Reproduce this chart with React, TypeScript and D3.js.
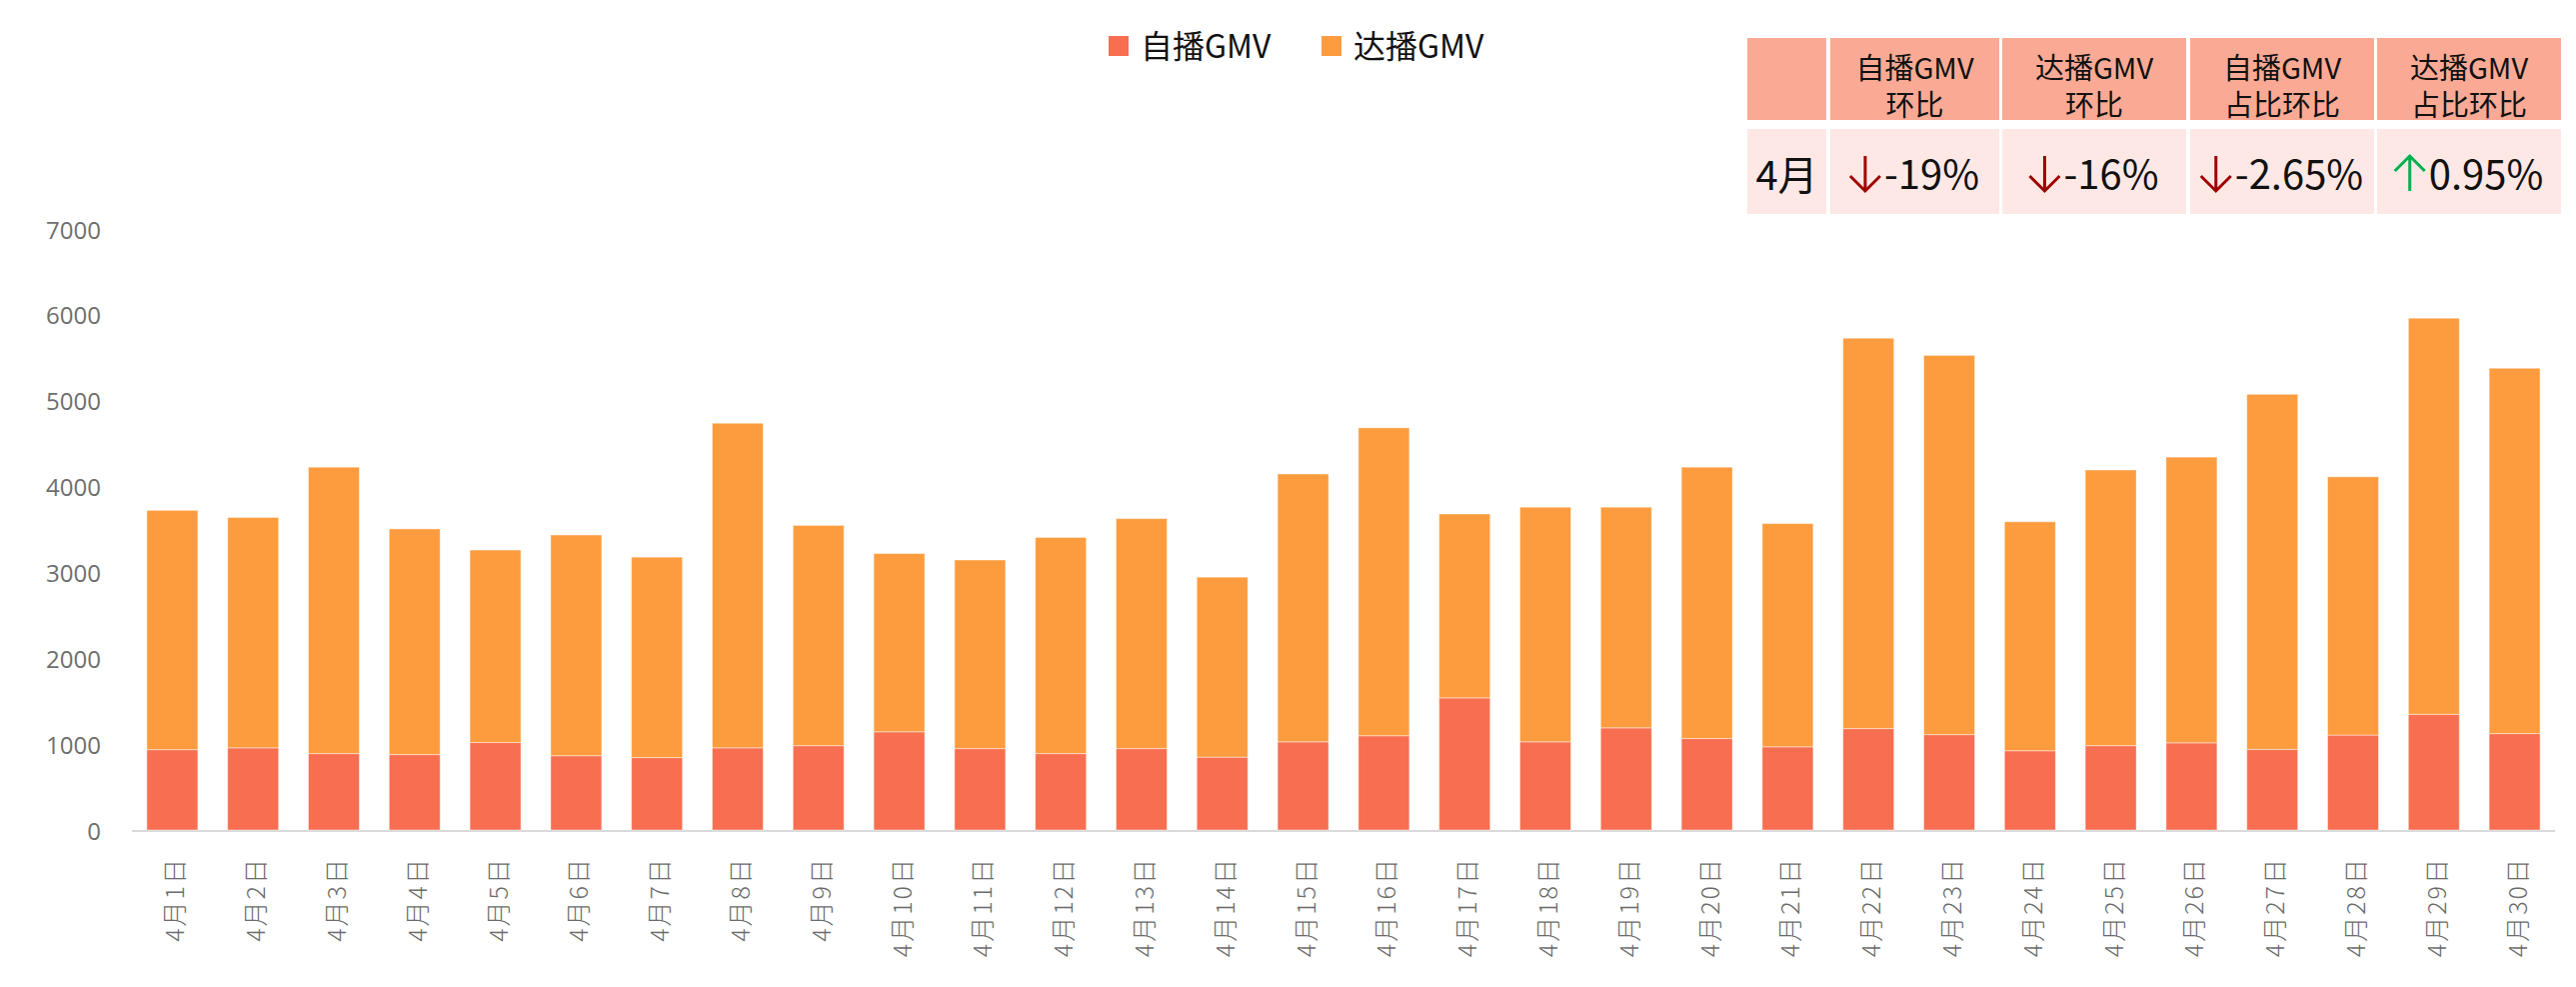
import React, { useEffect, useRef } from "react";
import * as d3 from "d3";

const days = [
  "4月1日", "4月2日", "4月3日", "4月4日", "4月5日", "4月6日", "4月7日", "4月8日", "4月9日", "4月10日",
  "4月11日", "4月12日", "4月13日", "4月14日", "4月15日", "4月16日", "4月17日", "4月18日", "4月19日", "4月20日",
  "4月21日", "4月22日", "4月23日", "4月24日", "4月25日", "4月26日", "4月27日", "4月28日", "4月29日", "4月30日",
];
const selfGMV = [936, 957, 890, 878, 1019, 865, 844, 957, 982, 1144, 948, 890, 948, 849, 1027, 1098, 1539, 1027, 1190, 1065, 969, 1181, 1111, 923, 982, 1015, 940, 1106, 1348, 1123];
const darenGMV = [2787, 2683, 3336, 2629, 2242, 2571, 2334, 3781, 2566, 2076, 2197, 2517, 2679, 2096, 3120, 3586, 2142, 2733, 2570, 3161, 2600, 4547, 4417, 2667, 3211, 3328, 4135, 3008, 4613, 4255];
const seriesNames = ["自播GMV", "达播GMV"];
const yTicks = [0, 1000, 2000, 3000, 4000, 5000, 6000, 7000];

const tableHeaders = [["", ""], ["自播GMV", "环比"], ["达播GMV", "环比"], ["自播GMV", "占比环比"], ["达播GMV", "占比环比"]];
const tableRowLabel = "4月";
const tableValues = ["-19%", "-16%", "-2.65%", "0.95%"];
const tableDirections = ["down", "down", "down", "up"];

const W = 2577, H = 987;
const COLORS = ["#F76E50", "#FC9C3E"];
const CJK = "'Noto Sans CJK SC', 'Noto Sans', sans-serif";

export default function App() {
  const ref = useRef<SVGSVGElement>(null);
  useEffect(() => {
    const svg = d3.select(ref.current);
    svg.selectAll("*").remove();

    const x = d3.scaleBand<string>().domain(days).range([132, 2556]).paddingInner(0.369).paddingOuter(0.1845);
    const y = d3.scaleLinear().domain([0, 7000]).range([830, 229]);

    const data = days.map((d, i) => ({ day: d, self: selfGMV[i], daren: darenGMV[i] }));
    const stack = d3.stack<any>().keys(["self", "daren"])(data);

    svg.append("line").attr("x1", 132).attr("x2", 2556).attr("y1", y(0) + 1).attr("y2", y(0) + 1)
      .attr("stroke", "#d9d9d9").attr("stroke-width", 2);

    stack.forEach((layer, li) => {
      svg.append("g").selectAll("rect").data(layer).join("rect")
        .attr("x", (d: any) => x(d.data.day)!)
        .attr("width", x.bandwidth())
        .attr("y", (d: any) => y(d[1]))
        .attr("height", (d: any) => y(d[0]) - y(d[1]))
        .attr("fill", COLORS[li])
        .attr("stroke", "#ffffff").attr("stroke-opacity", 0.45).attr("stroke-width", 1);
    });

    svg.append("g").selectAll("text").data(yTicks).join("text")
      .attr("x", 101).attr("y", (d) => y(d)).attr("text-anchor", "end").attr("dominant-baseline", "central")
      .attr("font-family", "'Open Sans', sans-serif").attr("font-size", 24).attr("fill", "#6e6e6e")
      .text((d) => String(d));

    svg.append("g").selectAll("text").data(days).join("text")
      .attr("transform", (d) => `translate(${x(d)! + x.bandwidth() / 2 + 1},857) rotate(-90)`)
      .attr("text-anchor", "end").attr("dominant-baseline", "central")
      .attr("font-family", CJK).attr("font-size", 25).attr("font-weight", 300).attr("letter-spacing", 2).attr("fill", "#6b6b6b")
      .text((d) => d);

    const legX = [1109, 1322];
    seriesNames.forEach((n, i) => {
      svg.append("rect").attr("x", legX[i]).attr("y", 36).attr("width", 20).attr("height", 20).attr("fill", COLORS[i]);
      svg.append("text").attr("x", legX[i] + 32).attr("y", 44).attr("dominant-baseline", "central")
        .attr("font-family", CJK).attr("font-size", 32).attr("fill", "#111").text(n);
    });

    const colX = [[1748, 1827], [1831, 2000], [2003, 2187], [2191, 2375], [2378, 2562]];
    const hdr = [38, 120];
    const row = [129, 214];
    const tg = svg.append("g");
    colX.forEach(([a, b], ci) => {
      tg.append("rect").attr("x", a).attr("y", hdr[0]).attr("width", b - a).attr("height", hdr[1] - hdr[0]).attr("fill", "#FAAA94");
      tg.append("rect").attr("x", a).attr("y", row[0]).attr("width", b - a).attr("height", row[1] - row[0]).attr("fill", "#FDE8E6");
      const cx = (a + b) / 2;
      const [l1, l2] = tableHeaders[ci];
      if (l1) {
        tg.append("text").attr("x", cx).attr("y", 66).attr("text-anchor", "middle").attr("dominant-baseline", "central")
          .attr("font-family", CJK).attr("font-size", 29).attr("fill", "#111").text(l1);
        tg.append("text").attr("x", cx).attr("y", 103).attr("text-anchor", "middle").attr("dominant-baseline", "central")
          .attr("font-family", CJK).attr("font-size", 29).attr("fill", "#111").text(l2);
      }
      if (ci === 0) {
        tg.append("text").attr("x", cx).attr("y", 173).attr("text-anchor", "middle").attr("dominant-baseline", "central")
          .attr("font-family", CJK).attr("font-size", 40).attr("fill", "#111").text(tableRowLabel);
      } else {
        const val = tableValues[ci - 1];
        const dir = tableDirections[ci - 1];
        const t = tg.append("text").attr("y", 172).attr("dominant-baseline", "central")
          .attr("font-family", CJK).attr("font-size", 40).attr("fill", "#111").text(val);
        const tw = (t.node() as SVGTextElement).getComputedTextLength();
        const aw = 30, gap = 4;
        const start = cx - (aw + gap + tw) / 2;
        t.attr("x", start + aw + gap);
        const ax = start + aw / 2;
        const top = 156, bot = 191;
        const color = dir === "down" ? "#A00000" : "#00B050";
        const p = dir === "down"
          ? `M${ax},${top}L${ax},${bot}M${ax - 15},${bot - 15}L${ax},${bot}L${ax + 15},${bot - 15}`
          : `M${ax},${bot}L${ax},${top}M${ax - 15},${top + 15}L${ax},${top}L${ax + 15},${top + 15}`;
        tg.append("path").attr("d", p).attr("fill", "none").attr("stroke", color).attr("stroke-width", 3);
      }
    });
  }, []);

  return (
    <svg ref={ref} width={W} height={H} style={{ position: "absolute", left: 0, top: 0, background: "#fff" }} />
  );
}
